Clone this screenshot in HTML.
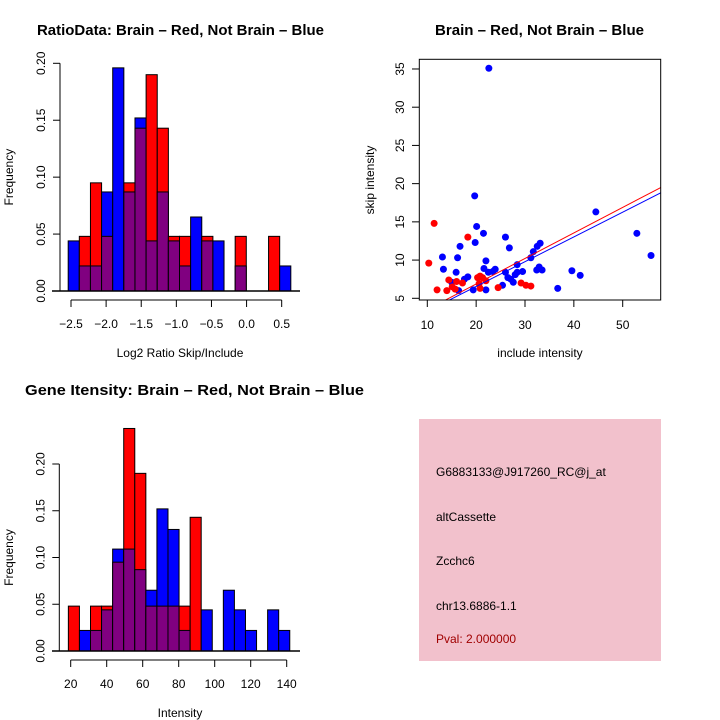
<!DOCTYPE html>
<html><head><meta charset="utf-8"><style>
html,body{margin:0;padding:0;background:#fff}
svg{display:block;font-family:"Liberation Sans",sans-serif}
</style></head><body>
<svg id="s" width="720" height="720" viewBox="0 0 720 720">
<rect x="0" y="0" width="720" height="720" fill="#fff"/>
<text x="37" y="35" font-size="15" font-weight="bold" textLength="287" lengthAdjust="spacingAndGlyphs">RatioData: Brain – Red, Not Brain – Blue</text>
<text x="435" y="35" font-size="15" font-weight="bold" textLength="209" lengthAdjust="spacingAndGlyphs">Brain – Red, Not Brain – Blue</text>
<text x="25" y="395" font-size="15" font-weight="bold" textLength="339" lengthAdjust="spacingAndGlyphs">Gene Itensity: Brain – Red, Not Brain – Blue</text>
<rect x="419" y="419" width="242" height="242" fill="#f2c1cc"/>
<g font-size="12">
<text x="436" y="476">G6883133@J917260_RC@j_at</text>
<text x="436" y="521">altCassette</text>
<text x="436" y="565">Zcchc6</text>
<text x="436" y="610">chr13.6886-1.1</text>
<text x="436" y="643" fill="#a00000">Pval: 2.000000</text>
</g>
</svg>
<script>
// ---- Ratio histogram data ----
const ratioRed = [0,0.048,0.095,0.048,0,0.095,0.143,0.190,0.143,0.048,0.048,0,0.048,0,0,0.048,0,0,0.048,0];
const ratioBlue = [0.044,0.022,0.022,0.087,0.196,0.087,0.152,0.044,0.087,0.044,0.022,0.065,0.044,0.044,0,0.022,0,0,0,0.022];
const ratioBinStart = -2.54;
const ratioBinWidth = 0.1585;
const ratioXTicks = [-2.5,-2.0,-1.5,-1.0,-0.5,0.0,0.5];
const ratioYTicks = [0,0.05,0.10,0.15,0.20];
// ---- Intensity histogram data ----
const intRed = [0.048,0,0.048,0.048,0.095,0.238,0.190,0.048,0.048,0.048,0.048,0.143,0,0,0,0,0,0,0,0];
const intBlue = [0,0.022,0.022,0.044,0.109,0.109,0.087,0.065,0.152,0.130,0.022,0,0.044,0,0.065,0.044,0.022,0,0.044,0.022];
const intBinStart = 18.7;
const intBinWidth = 6.15;
const intXTicks = [20,40,60,80,100,120,140];
const intYTicks = [0,0.05,0.10,0.15,0.20];
// ---- Scatter data ----
const blueX = [22.6,19.7,20.1,21.5,19.8,26.0,26.8,16.7,13.1,16.2,22.0,13.3,15.9,15.0,16.4,17.6,18.3,19.4,22.0,21.6,22.5,23.4,23.9,25.4,26.0,26.5,27.1,27.6,28.0,28.4,28.4,29.5,31.2,31.7,32.5,33.1,32.4,32.9,33.5,36.7,39.6,41.3,44.5,52.9,55.8];
const blueY = [35.1,18.4,14.4,13.5,12.3,13.0,11.6,11.8,10.4,10.3,9.9,8.8,8.4,7.1,6.0,7.5,7.8,6.1,6.1,8.9,8.4,8.5,8.8,6.7,8.4,7.7,7.5,7.1,8.1,8.4,9.4,8.5,10.3,11.1,11.8,12.2,8.7,9.1,8.7,6.3,8.6,8.0,16.3,13.5,10.6];
const redX = [10.3,11.4,12.0,14.0,14.4,15.1,16.0,15.7,17.2,18.3,20.3,20.8,20.6,21.3,20.8,22.0,24.5,29.2,30.2,31.2];
const redY = [9.6,14.8,6.1,6.0,7.4,6.5,7.2,6.2,7.0,13.0,7.7,7.9,6.9,7.7,6.3,7.3,6.4,7.0,6.7,6.6];
const redFit = [0.19,0.334];
const blueFit = [0.07,0.324];
const scXTicks = [10,20,30,40,50];
const scYTicks = [5,10,15,20,25,30,35];

const NS='http://www.w3.org/2000/svg';
const svg=document.getElementById('s');
function mk(tag,attrs,parent){const e=document.createElementNS(NS,tag);for(const k in attrs)e.setAttribute(k,attrs[k]);(parent||svg).appendChild(e);return e;}
function txt(x,y,s,attrs,parent){const e=mk('text',Object.assign({x:x,y:y,'font-size':12,'text-anchor':'middle'},attrs||{}),parent);e.textContent=s;return e;}

function hist(prefix,red,blue,b0,bw,xt,yt,X,Y,axX,axY,xlab,yMin,yMax,xLabY,xTitleY){
  const g=mk('g',{});
  
  
  for(let i=0;i<red.length;i++){
    const x0=X(b0+i*bw),x1=X(b0+(i+1)*bw);
    const r=red[i],b=blue[i];
    const mx=Math.max(r,b),mn=Math.min(r,b);
    if(mx>0){
      const e=mk('rect',{x:x0,y:Y(mx),width:x1-x0,height:Y(0)-Y(mx),fill:r>=b?'#ff0000':'#0000ff',stroke:'#000','stroke-width':1},g);
      
      
    }
    if(mn>0){
      const e=mk('rect',{x:x0,y:Y(mn),width:x1-x0,height:Y(0)-Y(mn),fill:'#800080',stroke:'#000','stroke-width':1},g);
      
      
    }
  }
  mk('line',{x1:52,y1:Y(0),x2:300,y2:Y(0),stroke:'#000','stroke-width':1.5},g);
  const ya=mk('g',{},g);
  
  
  mk('line',{x1:axX,y1:Y(yt[0]),x2:axX,y2:Y(yt[yt.length-1]),stroke:'#000'},ya);
  yt.forEach(v=>{mk('line',{x1:axX-7,y1:Y(v),x2:axX,y2:Y(v),stroke:'#000'},ya);
    txt(0,0,v.toFixed(2),{transform:`translate(${axX-15},${Y(v)}) rotate(-90)`},ya);});
  const xa=mk('g',{},g);
  
  
  mk('line',{x1:X(xt[0]),y1:axY,x2:X(xt[xt.length-1]),y2:axY,stroke:'#000'},xa);
  xt.forEach(v=>{mk('line',{x1:X(v),y1:axY,x2:X(v),y2:axY+7,stroke:'#000'},xa);
    txt(X(v),xLabY,(prefix==='ratio'?v.toFixed(1):String(v)).replace('-','\u2212'),{},xa);});
  const xl=txt(180,xTitleY,xlab,{},g);
  
  
  const yl=txt(0,0,'Frequency',{transform:`translate(13,${(Y(yt[0])+Y(yt[yt.length-1]))/2}) rotate(-90)`},g);
  
  
}
hist('ratio',ratioRed,ratioBlue,ratioBinStart,ratioBinWidth,ratioXTicks,ratioYTicks,
  v=>71+(v+2.5)*70.23, v=>291-v*1138.5, 60, 300,'Log2 Ratio Skip/Include',0,0.2,328,357);
hist('intensity',intRed,intBlue,intBinStart,intBinWidth,intXTicks,intYTicks,
  v=>70.7+(v-20)*1.8, v=>651-v*935, 59.3, 660,'Intensity',0,0.2,688,717);

const SX=v=>427.3+(v-10)*4.885, SY=v=>298.3-(v-5)*7.644;
const sg=mk('g',{});


mk('clipPath',{id:'cp'},sg);
mk('rect',{x:419.3,y:59.3,width:241.4,height:240.7},document.getElementById('cp'));
blueX.forEach((x,i)=>{const c=mk('circle',{cx:SX(x),cy:SY(blueY[i]),r:3.5,fill:'#0000ff'},sg);
  
  });
redX.forEach((x,i)=>{const c=mk('circle',{cx:SX(x),cy:SY(redY[i]),r:3.5,fill:'#ff0000'},sg);
  
  });
[[redFit,'#ff0000','red-fit-line'],[blueFit,'#0000ff','blue-fit-line']].forEach(([f,c,n])=>{
  const l=mk('line',{x1:SX(0),y1:SY(f[0]),x2:SX(70),y2:SY(f[0]+f[1]*70),stroke:c,'stroke-width':1,'clip-path':'url(#cp)'},sg);
  
  });
mk('rect',{x:419.3,y:59.3,width:241.4,height:240.7,fill:'none',stroke:'#000','stroke-width':1},sg);
const sxa=mk('g',{},sg);


mk('line',{x1:SX(10),y1:300,x2:SX(50),y2:300,stroke:'#000'},sxa);
scXTicks.forEach(v=>{mk('line',{x1:SX(v),y1:300,x2:SX(v),y2:307,stroke:'#000'},sxa);txt(SX(v),329,String(v),{},sxa);});
const sya=mk('g',{},sg);


scYTicks.forEach(v=>{mk('line',{x1:412,y1:SY(v),x2:419.3,y2:SY(v),stroke:'#000'},sya);
  txt(0,0,String(v),{transform:`translate(404,${SY(v)}) rotate(-90)`},sya);});
const sxl=txt(540,357,'include intensity',{},sg);


const syl=txt(0,0,'skip intensity',{transform:'translate(374,180) rotate(-90)'},sg);


</script>
</body></html>
